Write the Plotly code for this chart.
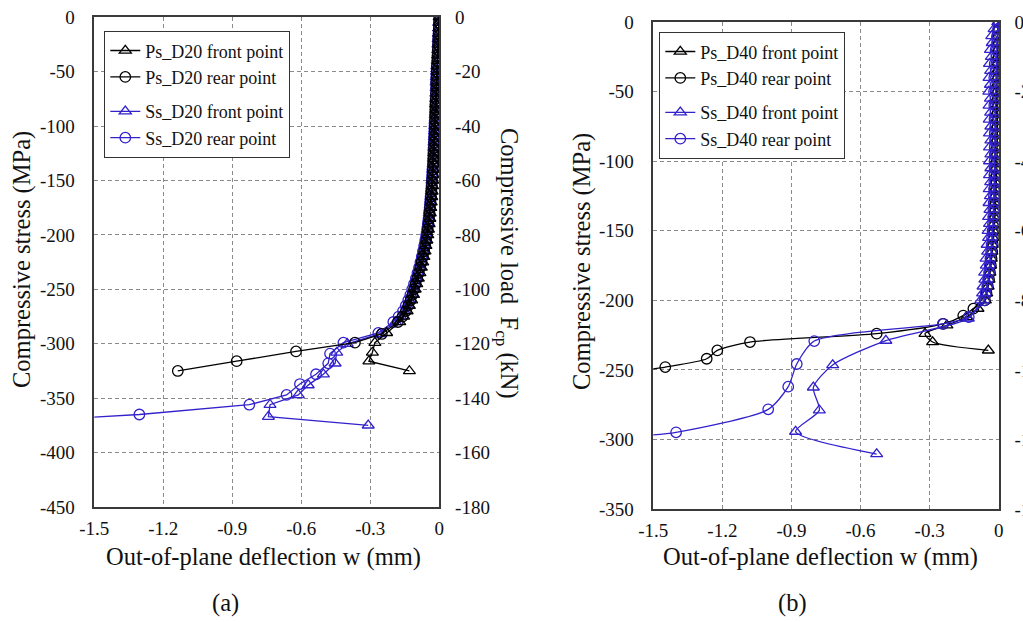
import plotly.graph_objects as go

# ---------------- data: panel (a) D20 ----------------
stress_a_steep = [0, -5, -10, -15, -20, -25, -30, -35, -40, -45, -50, -55, -60, -65, -70, -75, -80, -85,
                  -90, -95, -100, -105, -110, -115, -120, -125, -130, -135, -140, -145, -150, -155, -160,
                  -165, -170, -175, -180, -185, -190, -195, -200, -205, -210, -215, -220, -225, -230, -235,
                  -240, -245, -250, -255, -260, -265, -270, -275, -280]

ps_front_a_steep_w = [0, -0.001, -0.001, -0.002, -0.002, -0.003, -0.004, -0.005, -0.006, -0.007, -0.008,
                      -0.009, -0.010, -0.010, -0.011, -0.012, -0.013, -0.013, -0.014, -0.015, -0.016, -0.017,
                      -0.018, -0.019, -0.020, -0.021, -0.022, -0.023, -0.025, -0.026, -0.028, -0.029, -0.031,
                      -0.033, -0.035, -0.037, -0.039, -0.041, -0.044, -0.047, -0.050, -0.054, -0.058, -0.062,
                      -0.067, -0.072, -0.078, -0.084, -0.091, -0.098, -0.105, -0.112, -0.120, -0.130, -0.140,
                      -0.155, -0.172]
ps_front_a_tail_w = [-0.229, -0.280, -0.291, -0.306, -0.130]
ps_front_a_tail_s = [-290, -299, -308, -316, -325]

ps_rear_a_steep_w = [0, -0.001, -0.002, -0.003, -0.004, -0.005, -0.006, -0.007, -0.008, -0.010, -0.011,
                     -0.012, -0.013, -0.013, -0.014, -0.015, -0.016, -0.016, -0.017, -0.018, -0.019, -0.020,
                     -0.021, -0.022, -0.023, -0.024, -0.025, -0.026, -0.028, -0.029, -0.031, -0.032, -0.034,
                     -0.036, -0.038, -0.040, -0.042, -0.044, -0.047, -0.050, -0.053, -0.057, -0.061, -0.066,
                     -0.071, -0.077, -0.083, -0.089, -0.096, -0.103, -0.110, -0.117, -0.125, -0.135, -0.145,
                     -0.160, -0.180]
ps_rear_a_tail_w = [-0.25, -0.367, -0.623, -0.881, -1.137]
ps_rear_a_tail_s = [-291, -299, -307, -316, -325]

ss_front_a_steep_w = [0, -0.002, -0.003, -0.004, -0.005, -0.006, -0.007, -0.008, -0.009, -0.011, -0.012,
                      -0.013, -0.014, -0.014, -0.015, -0.016, -0.017, -0.017, -0.018, -0.019, -0.020, -0.021,
                      -0.022, -0.023, -0.024, -0.025, -0.026, -0.027, -0.029, -0.030, -0.032, -0.033, -0.035,
                      -0.037, -0.039, -0.041, -0.044, -0.046, -0.049, -0.052, -0.056, -0.060, -0.064, -0.069,
                      -0.074, -0.080, -0.086, -0.092, -0.099, -0.106, -0.114, -0.122, -0.130, -0.140, -0.152,
                      -0.168, -0.190]
ss_front_a_tail_w = [-0.26, -0.40, -0.446, -0.453, -0.504, -0.570, -0.613, -0.736, -0.743, -0.309]
ss_front_a_tail_s = [-291, -300, -308, -318, -328, -338, -347, -356, -367, -375]

ss_rear_a_steep_w = [0, -0.001, -0.002, -0.003, -0.005, -0.006, -0.007, -0.008, -0.009, -0.011, -0.012,
                     -0.013, -0.014, -0.014, -0.015, -0.016, -0.017, -0.018, -0.019, -0.020, -0.021, -0.022,
                     -0.023, -0.024, -0.025, -0.026, -0.027, -0.028, -0.030, -0.031, -0.033, -0.034, -0.036,
                     -0.038, -0.040, -0.042, -0.045, -0.047, -0.050, -0.053, -0.057, -0.061, -0.066, -0.071,
                     -0.076, -0.082, -0.088, -0.095, -0.102, -0.110, -0.118, -0.126, -0.135, -0.146, -0.158,
                     -0.177, -0.200]
ss_rear_a_tail_w = [-0.265, -0.417, -0.475, -0.483, -0.536, -0.606, -0.664, -0.826, -1.304, -1.62]
ss_rear_a_tail_s = [-290, -299, -309, -318, -328, -337, -347, -356, -365, -369]

# ---------------- data: panel (b) D40 ----------------
stress_b_steep = [0, -5, -10, -15, -20, -25, -30, -35, -40, -45, -50, -55, -60, -65, -70, -75, -80, -85,
                  -90, -95, -100, -105, -110, -115, -120, -125, -130, -135, -140, -145, -150, -155, -160,
                  -165, -170, -175, -180, -185, -190, -195, -200]

ps_front_b_steep_w = [-0.003, -0.004, -0.005, -0.005, -0.006, -0.006, -0.007, -0.007, -0.008, -0.008, -0.009,
                      -0.009, -0.010, -0.010, -0.011, -0.011, -0.012, -0.012, -0.013, -0.013, -0.014, -0.014,
                      -0.015, -0.015, -0.016, -0.017, -0.018, -0.019, -0.020, -0.021, -0.023, -0.025, -0.027,
                      -0.029, -0.032, -0.035, -0.038, -0.042, -0.046, -0.052, -0.058]
ps_front_b_tail_w = [-0.09, -0.14, -0.225, -0.320, -0.287, -0.045]
ps_front_b_tail_s = [-206, -212, -218, -224, -230, -236]

ps_rear_b_steep_w = [0, 0.001, 0.001, 0.001, 0.0, 0.0, -0.001, -0.001, -0.002, -0.002, -0.003,
                     -0.003, -0.004, -0.004, -0.005, -0.005, -0.006, -0.006, -0.007, -0.007, -0.008, -0.008,
                     -0.009, -0.010, -0.011, -0.012, -0.013, -0.014, -0.016, -0.018, -0.020, -0.022, -0.025,
                     -0.028, -0.031, -0.034, -0.038, -0.042, -0.047, -0.053, -0.060]
ps_rear_b_tail_w = [-0.11, -0.154, -0.241, -0.53, -1.08, -1.222, -1.268, -1.448, -1.62]
ps_rear_b_tail_s = [-206, -211, -217, -224, -230, -236, -242, -248, -252]

ss_front_b_steep_w = [-0.003, -0.020, -0.030, -0.028, -0.036, -0.032, -0.040, -0.035, -0.042, -0.036, -0.043,
                      -0.036, -0.042, -0.035, -0.041, -0.034, -0.040, -0.034, -0.040, -0.034, -0.040, -0.034,
                      -0.040, -0.035, -0.041, -0.036, -0.042, -0.038, -0.044, -0.040, -0.046, -0.044, -0.050,
                      -0.048, -0.055, -0.054, -0.061, -0.060, -0.068, -0.070, -0.078]
ss_front_b_tail_w = [-0.132, -0.49, -0.721, -0.805, -0.779, -0.882, -0.53]
ss_front_b_tail_s = [-213, -229, -246.5, -262.6, -279, -294.4, -310.5]

ss_rear_b_steep_w = [0, -0.003, -0.005, -0.007, -0.008, -0.009, -0.010, -0.011, -0.012, -0.012, -0.013,
                     -0.013, -0.014, -0.014, -0.015, -0.015, -0.016, -0.016, -0.017, -0.017, -0.018, -0.018,
                     -0.019, -0.019, -0.020, -0.021, -0.022, -0.023, -0.024, -0.025, -0.027, -0.029, -0.031,
                     -0.033, -0.036, -0.039, -0.042, -0.046, -0.050, -0.056, -0.062]
ss_rear_b_tail_w = [-0.13, -0.243, -0.801, -0.877, -0.914, -1.001, -1.401, -1.62]
ss_rear_b_tail_s = [-212, -217, -229.3, -245.8, -262.1, -278.4, -294.9, -298]

# ---------------- ticks ----------------
x_tickvals = [-1.5, -1.2, -0.9, -0.6, -0.3, 0]
x_ticktext = ["-1.5", "-1.2", "-0.9", "-0.6", "-0.3", "0"]
ya_tickvals = [0, -50, -100, -150, -200, -250, -300, -350, -400, -450]
ya_right_tickvals = [0, -20, -40, -60, -80, -100, -120, -140, -160, -180]
yb_tickvals = [0, -50, -100, -150, -200, -250, -300, -350]
yb_right_tickvals = [0, -20, -40, -60, -80, -100, -120, -140]

for arr in (ps_front_a_steep_w, ps_rear_a_steep_w, ss_front_a_steep_w, ss_rear_a_steep_w):
    assert len(arr) == len(stress_a_steep)
for arr in (ps_front_b_steep_w, ps_rear_b_steep_w, ss_front_b_steep_w, ss_rear_b_steep_w):
    assert len(arr) == len(stress_b_steep)

FONT = "Liberation Serif"
BLACK = "#000000"
BLUE = "#3322CC"
W, H = 1023, 622

fig = go.Figure()

def add(xs, ys, name, color, symbol, xa, ya, legend, group, rank, shape="linear"):
    fig.add_trace(go.Scatter(
        x=xs, y=ys, name=name, mode="lines+markers",
        line=dict(color=color, width=1.3, shape=shape, smoothing=0.7),
        marker=dict(symbol=symbol, size=10.5, color=color, line=dict(color=color, width=1.3)),
        xaxis=xa, yaxis=ya, legend=legend, legendgroup=group, legendrank=rank, cliponaxis=True))

# panel (a): blue drawn first so the black chain lies on top (as in the reference)
add(ss_front_a_steep_w + ss_front_a_tail_w, stress_a_steep + ss_front_a_tail_s,
    "Ss_D20 front point", BLUE, "triangle-up-open", "x", "y", "legend", "ss", 3)
add(ss_rear_a_steep_w + ss_rear_a_tail_w, stress_a_steep + ss_rear_a_tail_s,
    "Ss_D20 rear point", BLUE, "circle-open", "x", "y", "legend", "ss", 4)
add(ps_front_a_steep_w + ps_front_a_tail_w, stress_a_steep + ps_front_a_tail_s,
    "Ps_D20 front point", BLACK, "triangle-up-open", "x", "y", "legend", "ps", 1)
add(ps_rear_a_steep_w + ps_rear_a_tail_w, stress_a_steep + ps_rear_a_tail_s,
    "Ps_D20 rear point", BLACK, "circle-open", "x", "y", "legend", "ps", 2)

add(ps_front_b_steep_w + ps_front_b_tail_w, stress_b_steep + ps_front_b_tail_s,
    "Ps_D40 front point", BLACK, "triangle-up-open", "x2", "y2", "legend2", "ps2", 1, "spline")
add(ps_rear_b_steep_w + ps_rear_b_tail_w, stress_b_steep + ps_rear_b_tail_s,
    "Ps_D40 rear point", BLACK, "circle-open", "x2", "y2", "legend2", "ps2", 2, "spline")
add(ss_front_b_steep_w + ss_front_b_tail_w, stress_b_steep + ss_front_b_tail_s,
    "Ss_D40 front point", BLUE, "triangle-up-open", "x2", "y2", "legend2", "ss2", 3, "spline")
add(ss_rear_b_steep_w + ss_rear_b_tail_w, stress_b_steep + ss_rear_b_tail_s,
    "Ss_D40 rear point", BLUE, "circle-open", "x2", "y2", "legend2", "ss2", 4, "spline")

tickfont = dict(family=FONT, size=19, color="#111")
grid = dict(showgrid=True, gridcolor="#8a8a8a", griddash="4px,3px", gridwidth=1)
frame = dict(showline=True, linecolor="#3a3a3a", linewidth=1.5, mirror=True, zeroline=False)

xa_dom = [94.3 / W, 439.3 / W]
ya_dom = [1 - 507 / H, 1 - 17.3 / H]
xb_dom = [653.3 / W, 998.7 / W]
yb_dom = [1 - 509 / H, 1 - 22 / H]

common_x = dict(range=[-1.5, 0], tickvals=x_tickvals, ticktext=x_ticktext, tickfont=tickfont,
                ticks="outside", ticklen=3, tickcolor="rgba(0,0,0,0)", automargin=False, **grid, **frame)

legend_common = dict(xanchor="left", yanchor="top", bgcolor="white", bordercolor="#333", borderwidth=1.3,
                     font=dict(family=FONT, size=18, color="#111"), tracegroupgap=8, itemwidth=30,
                     traceorder="grouped")

fig.update_layout(
    width=W, height=H, margin=dict(l=0, r=0, t=0, b=0),
    paper_bgcolor="white", plot_bgcolor="white",
    font=dict(family=FONT, color="#111"),
    xaxis=dict(domain=xa_dom, anchor="y", **common_x),
    yaxis=dict(domain=ya_dom, anchor="x", range=[-450, 0], tickvals=ya_tickvals,
               ticktext=[str(v) for v in ya_tickvals], tickfont=tickfont,
               ticks="outside", ticklen=14, tickcolor="rgba(0,0,0,0)", automargin=False, **grid, **frame),
    yaxis3=dict(overlaying="y", anchor="x", side="right", range=[-180, 0], tickvals=ya_right_tickvals,
                ticktext=[str(v) for v in ya_right_tickvals], tickfont=tickfont, showgrid=False,
                zeroline=False, ticks="outside", ticklen=11, tickcolor="rgba(0,0,0,0)", automargin=False),
    xaxis2=dict(domain=xb_dom, anchor="y2", **common_x),
    yaxis2=dict(domain=yb_dom, anchor="x2", range=[-350, 0], tickvals=yb_tickvals,
                ticktext=[str(v) for v in yb_tickvals], tickfont=tickfont,
                ticks="outside", ticklen=14, tickcolor="rgba(0,0,0,0)", automargin=False, **grid, **frame),
    yaxis4=dict(overlaying="y2", anchor="x2", side="right", range=[-140, 0], tickvals=yb_right_tickvals,
                ticktext=[str(v) for v in yb_right_tickvals], tickfont=tickfont, showgrid=False,
                zeroline=False, ticks="outside", ticklen=11, tickcolor="rgba(0,0,0,0)", automargin=False),
    legend=dict(x=104 / W, y=1 - 31 / H, **legend_common),
    legend2=dict(x=659 / W, y=1 - 32 / H, **legend_common),
)

# invisible traces so that the right axes are rendered
fig.add_trace(go.Scatter(x=[None], y=[None], xaxis="x", yaxis="y3", showlegend=False, hoverinfo="skip"))
fig.add_trace(go.Scatter(x=[None], y=[None], xaxis="x2", yaxis="y4", showlegend=False, hoverinfo="skip"))

tfont = dict(family=FONT, size=24.5, color="#111")
ann = [
    dict(text="Out-of-plane deflection w (mm)", x=263 / W, y=1 - 557 / H, textangle=0),
    dict(text="Out-of-plane deflection w (mm)", x=820 / W, y=1 - 557 / H, textangle=0),
    dict(text="Compressive stress (MPa)", x=22 / W, y=1 - 260 / H, textangle=-90),
    dict(text="Compressive stress (MPa)", x=582 / W, y=1 - 262 / H, textangle=-90),
    dict(text="Compressive load  F<sub>cp</sub> (kN)", x=508 / W, y=1 - 263 / H, textangle=90),
    dict(text="(a)", x=225 / W, y=1 - 603 / H, textangle=0),
    dict(text="(b)", x=792 / W, y=1 - 603 / H, textangle=0),
]
for a in ann:
    fig.add_annotation(xref="paper", yref="paper", showarrow=False, xanchor="center", yanchor="middle",
                       font=tfont, **a)

fig.write_html("out.html")
